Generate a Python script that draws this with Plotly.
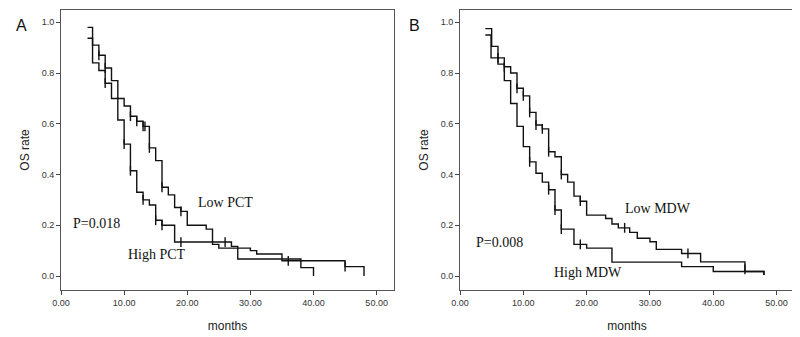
import plotly.graph_objects as go

# ---------------- data ----------------
# Panel A: PCT
low_pct_t = [4.2, 5, 6, 7, 8, 9, 10, 11, 12, 13, 14, 15, 16, 17, 18, 19, 20, 23, 24, 25, 30, 31, 35, 45, 48]
low_pct_s = [0.98, 0.91, 0.87, 0.82, 0.77, 0.70, 0.67, 0.63, 0.61, 0.59, 0.505, 0.455, 0.35, 0.32, 0.27,
             0.255, 0.20, 0.185, 0.125, 0.11, 0.10, 0.087, 0.06, 0.037, 0.0]
low_pct_cens_t = [6, 7, 11, 12, 13, 13.3, 14, 16, 19, 36, 45]
low_pct_cens_s = [0.87, 0.82, 0.63, 0.61, 0.59, 0.59, 0.505, 0.35, 0.255, 0.06, 0.037]

high_pct_t = [4.2, 5, 6, 7, 8, 9, 10, 11, 12, 13, 14, 15, 16, 18, 27, 28, 38, 40]
high_pct_s = [0.937, 0.84, 0.81, 0.76, 0.70, 0.615, 0.52, 0.415, 0.33, 0.30, 0.28, 0.22, 0.20, 0.134,
              0.117, 0.067, 0.033, 0.0]
high_pct_cens_t = [7, 10, 11, 13, 15, 16, 19, 26]
high_pct_cens_s = [0.76, 0.52, 0.415, 0.30, 0.22, 0.20, 0.134, 0.134]

# Panel B: MDW
low_mdw_t = [4.0, 5, 6, 7, 8, 9, 10, 11, 12, 13, 14, 15, 16, 17, 18, 19, 20, 23, 24, 25, 26.8, 28, 30, 31,
             35, 38, 45, 48]
low_mdw_s = [0.975, 0.905, 0.86, 0.825, 0.80, 0.74, 0.71, 0.645, 0.595, 0.58, 0.49, 0.47, 0.40, 0.37, 0.315,
             0.295, 0.24, 0.227, 0.205, 0.19, 0.172, 0.149, 0.135, 0.105, 0.089, 0.056, 0.018, 0.004]
low_mdw_cens_t = [6, 7, 9, 10, 11, 12, 13, 14, 16, 19, 26, 36, 45]
low_mdw_cens_s = [0.86, 0.825, 0.74, 0.71, 0.645, 0.595, 0.58, 0.49, 0.40, 0.295, 0.19, 0.089, 0.026]

high_mdw_t = [4.0, 4.9, 6, 7, 8, 9, 10, 11, 12, 13, 14, 15, 16, 18, 20, 24, 35, 40, 48]
high_mdw_s = [0.95, 0.86, 0.835, 0.77, 0.68, 0.59, 0.51, 0.45, 0.405, 0.37, 0.34, 0.26, 0.185, 0.125, 0.11,
              0.055, 0.037, 0.018, 0.004]
high_mdw_cens_t = [11, 14, 15, 16, 19]
high_mdw_cens_s = [0.45, 0.34, 0.26, 0.185, 0.125]

x_ticks = [0, 10, 20, 30, 40, 50]
x_tick_labels = ["0.00", "10.00", "20.00", "30.00", "40.00", "50.00"]
y_ticks = [0.0, 0.2, 0.4, 0.6, 0.8, 1.0]
y_tick_labels = ["0.0", "0.2", "0.4", "0.6", "0.8", "1.0"]

# ---------------- figure ----------------
# The page body has an 8px default margin, so the figure is 8px smaller and all
# positions are given relative to the figure's own origin (screen - 8).
OFF = 8
W, H = 800 - OFF, 337 - OFF
fig = go.Figure()

LINE = dict(color="#111111", width=1.4)


def add_curve(t, s, ct, cs, xa, ya):
    fig.add_trace(go.Scatter(x=t, y=s, mode="lines", line=dict(shape="hv", **LINE),
                             xaxis=xa, yaxis=ya, showlegend=False, hoverinfo="skip"))
    fig.add_trace(go.Scatter(x=ct, y=cs, mode="markers",
                             marker=dict(symbol="line-ns", size=7, line=dict(color="#111111", width=1.4)),
                             xaxis=xa, yaxis=ya, showlegend=False, hoverinfo="skip"))


add_curve(low_pct_t, low_pct_s, low_pct_cens_t, low_pct_cens_s, "x", "y")
add_curve(high_pct_t, high_pct_s, high_pct_cens_t, high_pct_cens_s, "x", "y")
add_curve(low_mdw_t, low_mdw_s, low_mdw_cens_t, low_mdw_cens_s, "x2", "y2")
add_curve(high_mdw_t, high_mdw_s, high_mdw_cens_t, high_mdw_cens_s, "x2", "y2")


def hx(px):  # screen x -> paper fraction
    return (px - OFF) / W


def vy(py):  # screen y -> paper fraction
    return 1 - (py - OFF) / H


ydom = [vy(290), vy(10)]
tickfont = dict(family="Liberation Sans, Arial", size=9, color="#333333")
titlefont = dict(family="Liberation Sans, Arial", size=12, color="#222222")
xa_common = dict(range=[0, 52.75], tickvals=x_ticks, ticktext=x_tick_labels, automargin=False,
                 showgrid=False, zeroline=False, showline=True, mirror=True,
                 linecolor="#555555", linewidth=1, ticks="outside", ticklen=4,
                 tickcolor="#444444", tickfont=tickfont,
                 title=dict(text="months", font=titlefont, standoff=14))
ya_common = dict(range=[-0.055, 1.0485], tickvals=y_ticks, ticktext=y_tick_labels, automargin=False,
                 showgrid=False, zeroline=False, showline=True, mirror=True,
                 linecolor="#555555", linewidth=1, ticks="outside", ticklen=4,
                 tickcolor="#444444", tickfont=tickfont,
                 title=dict(text="OS rate", font=titlefont, standoff=9))

fig.update_layout(
    width=W, height=H,
    margin=dict(l=0, r=0, t=0, b=0, autoexpand=False),
    paper_bgcolor="white", plot_bgcolor="white",
    xaxis=dict(domain=[hx(61), hx(394)], anchor="y", **xa_common),
    yaxis=dict(domain=ydom, anchor="x", **ya_common),
    xaxis2=dict(domain=[hx(460), hx(794)], anchor="y2", **xa_common),
    yaxis2=dict(domain=ydom, anchor="x2", **ya_common),
)

serif = dict(family="Liberation Serif, Times New Roman", size=14, color="#111111")
notes = [
    ("x", "y", 26.1, 0.288, "Low PCT"),
    ("x", "y", 15.2, 0.083, "High PCT"),
    ("x", "y", 5.65, 0.208, "P=0.018"),
    ("x2", "y2", 31.2, 0.268, "Low MDW"),
    ("x2", "y2", 20.2, 0.015, "High MDW"),
    ("x2", "y2", 6.3, 0.131, "P=0.008"),
]
for xr, yr, x, y, txt in notes:
    fig.add_annotation(xref=xr, yref=yr, x=x, y=y, text=txt, showarrow=False, font=serif)

for px, letter in [(14, "A"), (414, "B")]:
    fig.add_annotation(xref="paper", yref="paper", x=hx(px), y=vy(15), text=letter, showarrow=False,
                       font=dict(family="Liberation Sans, Arial", size=16, color="#111111"))

fig.write_html("out.html")
